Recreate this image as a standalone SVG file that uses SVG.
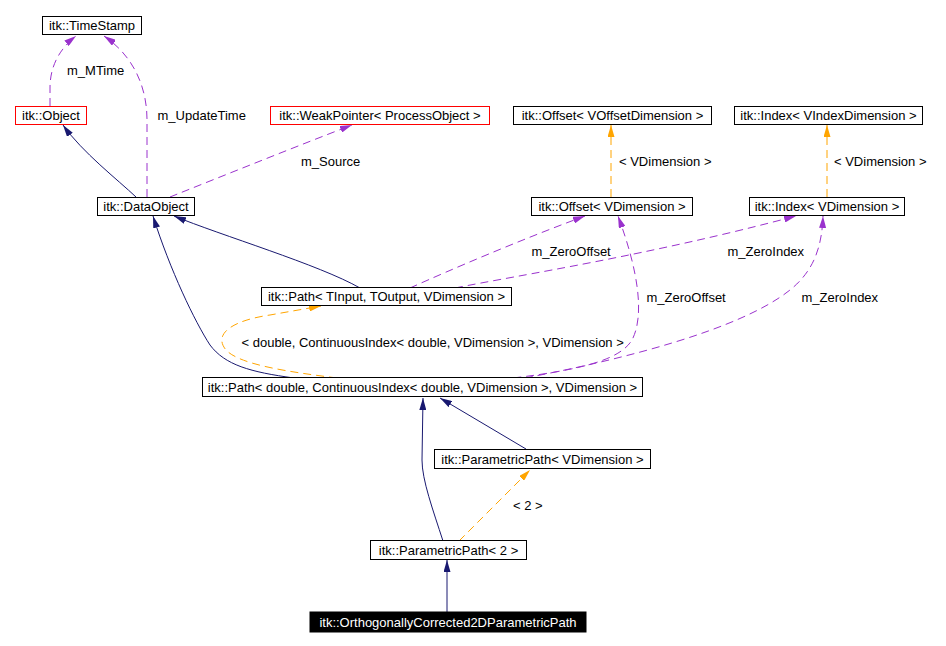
<svg xmlns="http://www.w3.org/2000/svg" width="946" height="646" viewBox="0 0 946 646">
<defs>
<style>
text{font-family:"Liberation Sans",Arial,Helvetica,sans-serif;font-size:13px;fill:#000}
.box{fill:#fff;stroke:#000;stroke-width:1}
.red{fill:#fff;stroke:#ff0000;stroke-width:1}
.dark{fill:#000;stroke:#000}
.nt{text-anchor:middle}
.wt{fill:#fff}
.inh{fill:none;stroke:#191970;stroke-width:1;marker-end:url(#aNavy)}
.use{fill:none;stroke:#9a32cd;stroke-width:1;stroke-dasharray:8,5;marker-end:url(#aPurple)}
.tpl{fill:none;stroke:#ffa500;stroke-width:1;stroke-dasharray:8,5;marker-end:url(#aOrange)}
</style>
<marker id="aNavy" markerUnits="userSpaceOnUse" viewBox="0 0 12 7" refX="12" refY="3.5" markerWidth="12" markerHeight="7" orient="auto"><path d="M0,0 L12,3.5 L0,7 z" fill="#191970"/></marker>
<marker id="aPurple" markerUnits="userSpaceOnUse" viewBox="0 0 12 7" refX="12" refY="3.5" markerWidth="12" markerHeight="7" orient="auto"><path d="M0,0 L12,3.5 L0,7 z" fill="#9a32cd"/></marker>
<marker id="aOrange" markerUnits="userSpaceOnUse" viewBox="0 0 12 7" refX="12" refY="3.5" markerWidth="12" markerHeight="7" orient="auto"><path d="M0,0 L12,3.5 L0,7 z" fill="#ffa500"/></marker>
</defs>
<rect width="946" height="646" fill="#fff"/>
<g id="connectors">
<path class="use" d="M50,106 L50,88 C50,68 58,50 76,36"/>
<path class="use" d="M147,197 L147,120 C147,85 132,55 104,36"/>
<path class="inh" d="M136,197 C118,180 82,152 63,125"/>
<path class="use" d="M170,197 C230,173 300,145 352,125"/>
<path class="inh" d="M360,288 C320,265 220,235 174,216"/>
<path class="inh" d="M294,378 C250,372 225,365 210,345 C195,322 170,270 153,216"/>
<path class="tpl" d="M337,378 C290,372 240,365 226,350 C212,333 235,320 270,315 L321,306"/>
<path class="use" d="M410,288 C450,270 520,240 585,216"/>
<path class="use" d="M455,288 C520,275 650,255 796,216"/>
<path class="use" d="M513,378 C580,370 620,360 632,340 C645,315 638,270 618,216"/>
<path class="use" d="M525,378 C620,360 740,330 790,290 C815,270 822,245 823,216"/>
<path class="tpl" d="M611,197 L611,125"/>
<path class="tpl" d="M827,197 L827,125"/>
<path class="inh" d="M526,449 L440,398"/>
<path class="inh" d="M443,541 C433,510 422,480 422,460 L423,398"/>
<path class="tpl" d="M459,541 L530,470"/>
<path class="inh" d="M447,612 L447,560"/>
</g>
<g id="labels">
<text x="67" y="75">m_MTime</text>
<text x="157.5" y="120">m_UpdateTime</text>
<text x="301" y="166">m_Source</text>
<text x="619" y="166">&lt; VDimension &gt;</text>
<text x="834" y="166">&lt; VDimension &gt;</text>
<text x="531.5" y="256">m_ZeroOffset</text>
<text x="727.5" y="256">m_ZeroIndex</text>
<text x="646.5" y="302">m_ZeroOffset</text>
<text x="801.5" y="302">m_ZeroIndex</text>
<text x="241.5" y="346.5">&lt; double, ContinuousIndex&lt; double, VDimension &gt;, VDimension &gt;</text>
<text x="513" y="510">&lt; 2 &gt;</text>
</g>
<g id="n_TimeStamp"><rect class="box" x="42.5" y="16.5" width="99" height="18"/><text class="nt" x="92" y="30">itk::TimeStamp</text></g>
<g id="n_Object"><rect class="red" x="15.5" y="106.5" width="71" height="18"/><text class="nt" x="51" y="120">itk::Object</text></g>
<g id="n_WeakPointer"><rect class="red" x="270.5" y="106.5" width="219" height="18"/><text class="nt" x="380" y="120">itk::WeakPointer&lt; ProcessObject &gt;</text></g>
<g id="n_OffsetVOff"><rect class="box" x="513.5" y="106.5" width="198" height="18"/><text class="nt" x="612.5" y="120">itk::Offset&lt; VOffsetDimension &gt;</text></g>
<g id="n_IndexVIdx"><rect class="box" x="734.5" y="106.5" width="188" height="18"/><text class="nt" x="828.5" y="120">itk::Index&lt; VIndexDimension &gt;</text></g>
<g id="n_DataObject"><rect class="box" x="97.5" y="197.5" width="97" height="18"/><text class="nt" x="146" y="211">itk::DataObject</text></g>
<g id="n_OffsetVD"><rect class="box" x="531.5" y="197.5" width="161" height="18"/><text class="nt" x="612" y="211">itk::Offset&lt; VDimension &gt;</text></g>
<g id="n_IndexVD"><rect class="box" x="749.5" y="197.5" width="155" height="18"/><text class="nt" x="827" y="211">itk::Index&lt; VDimension &gt;</text></g>
<g id="n_PathT"><rect class="box" x="261.5" y="287.5" width="250" height="18"/><text class="nt" x="386.5" y="301">itk::Path&lt; TInput, TOutput, VDimension &gt;</text></g>
<g id="n_PathD"><rect class="box" x="202.5" y="377.5" width="440" height="19"/><text class="nt" x="422.5" y="391.5">itk::Path&lt; double, ContinuousIndex&lt; double, VDimension &gt;, VDimension &gt;</text></g>
<g id="n_PPVD"><rect class="box" x="434.5" y="449.5" width="216" height="19"/><text class="nt" x="542.5" y="463.5">itk::ParametricPath&lt; VDimension &gt;</text></g>
<g id="n_PP2"><rect class="box" x="370.5" y="540.5" width="156" height="19"/><text class="nt" x="448.5" y="554.5">itk::ParametricPath&lt; 2 &gt;</text></g>
<g id="n_Ortho"><rect class="dark" x="310" y="612" width="276" height="20"/><text class="nt wt" x="448" y="626.5">itk::OrthogonallyCorrected2DParametricPath</text></g>
</svg>
